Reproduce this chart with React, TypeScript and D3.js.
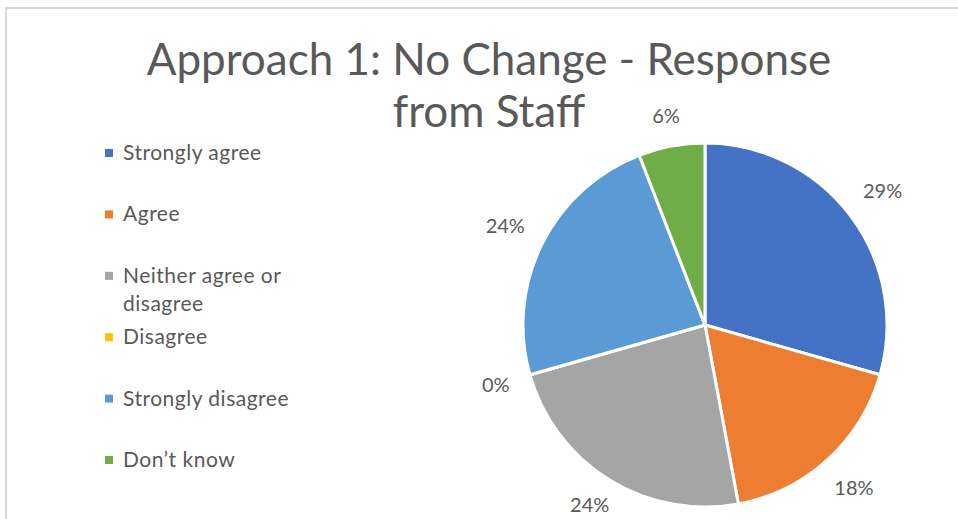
import React, { useEffect, useRef } from 'react';
import * as d3 from 'd3';

// responses (counts), one per category
const categories = ['Strongly agree', 'Agree', 'Neither agree or disagree', 'Disagree', 'Strongly disagree', 'Don\u2019t know'];
const counts = [5, 3, 4, 0, 4, 1];
const colors = ['#4472C4', '#ED7D31', '#A5A5A5', '#FFC000', '#5B9BD5', '#70AD47'];
const legendLines = [['Strongly agree'], ['Agree'], ['Neither agree or', 'disagree'], ['Disagree'], ['Strongly disagree'], ['Don\u2019t know']];
const titleLines = ['Approach 1: No Change - Response', 'from Staff'];

const width = 958;
const height = 519;
const font = 'Lato, "Open Sans", sans-serif';
const textColor = '#595959';

function App() {
  const ref = useRef<SVGSVGElement>(null);

  useEffect(() => {
    const svg = d3.select(ref.current);
    svg.selectAll('*').remove();

    svg.append('rect').attr('width', width).attr('height', height).attr('fill', '#fff');

    // frame (top and left edge visible)
    svg.append('path')
      .attr('d', 'M6,' + height + 'V8H' + width)
      .attr('fill', 'none')
      .attr('stroke', '#d9d9d9')
      .attr('stroke-width', 2);

    // title
    svg.append('g').selectAll('text')
      .data(titleLines)
      .enter().append('text')
      .attr('x', 489)
      .attr('y', (d, i) => 75 + i * 52)
      .attr('text-anchor', 'middle')
      .attr('font-family', font)
      .attr('font-size', 44)
      .attr('fill', textColor)
      .text(d => d);

    // legend
    const legend = svg.append('g').attr('transform', 'translate(105,0)');
    const rowY = d3.scaleLinear().domain([0, categories.length - 1]).range([153, 460]);
    const item = legend.selectAll('.item')
      .data(categories)
      .enter().append('g')
      .attr('class', 'item')
      .attr('transform', (d, i) => 'translate(0,' + rowY(i) + ')');
    item.append('rect')
      .attr('x', 0).attr('y', -4).attr('width', 8).attr('height', 8)
      .attr('fill', (d, i) => colors[i]);
    item.append('text')
      .attr('font-family', font)
      .attr('font-size', 21)
      .attr('letter-spacing', 0.5)
      .attr('fill', textColor)
      .selectAll('tspan')
      .data((d, i) => legendLines[i])
      .enter().append('tspan')
      .attr('x', 18)
      .attr('y', (d, j) => 7 + j * 28)
      .text(d => d);

    // pie
    const cx = 705, cy = 325, radius = 182;
    const total = d3.sum(counts);
    const pie = d3.pie<number>().sort(null).value(d => d);
    const arc = d3.arc<d3.PieArcDatum<number>>().innerRadius(0).outerRadius(radius);
    const arcs = pie(counts);

    const g = svg.append('g').attr('transform', 'translate(' + cx + ',' + cy + ')');
    g.selectAll('path')
      .data(arcs)
      .enter().append('path')
      .attr('d', arc)
      .attr('fill', (d, i) => colors[i])
      .attr('stroke', '#fff')
      .attr('stroke-width', 3)
      .attr('stroke-linejoin', 'round');

    // outside-end labels
    g.selectAll('.lbl')
      .data(arcs)
      .enter().append('text')
      .attr('class', 'lbl')
      .attr('font-family', font)
      .attr('font-size', 20)
      .attr('fill', textColor)
      .attr('text-anchor', 'middle')
      .attr('dy', '0.35em')
      .text(d => d3.format('.0%')(d.value / total))
      .attr('transform', function (d) {
        const a = (d.startAngle + d.endAngle) / 2;
        const s = Math.sin(a), c = Math.cos(a);
        const w = (this as SVGTextElement).getComputedTextLength() / 2;
        const r = radius + 20 + Math.abs(s) * w + Math.abs(c) * 8;
        const y = Math.min(-r * c, height - cy - 14);
        return 'translate(' + r * s + ',' + y + ')';
      });
  }, []);

  return (
    <svg ref={ref} width={width} height={height}
      style={{ position: 'absolute', left: 0, top: 0, display: 'block' }} />
  );
}

export default App;
